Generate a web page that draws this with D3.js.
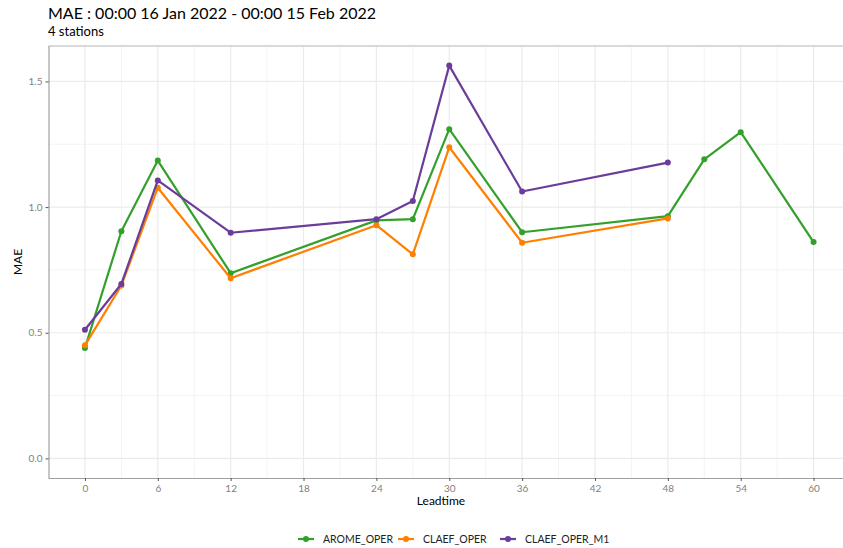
<!DOCTYPE html>
<meta charset="utf-8">
<script src="https://d3js.org/d3.v7.min.js"></script>
<style>
  body { margin: 0; background: #fff; }
  text { font-family: Lato, "Open Sans", sans-serif; }
</style>
<div class="chart"></div>
<script>
  // leadtimes and MAE values per model
  const leadAROME = [0, 3, 6, 12, 24, 27, 30, 36, 48, 51, 54, 60];
  const maeAROME  = [0.439, 0.904, 1.185, 0.737, 0.947, 0.952, 1.31, 0.90, 0.964, 1.19, 1.298, 0.861];
  const leadCLAEF = [0, 3, 6, 12, 24, 27, 30, 36, 48];
  const maeCLAEF  = [0.45, 0.688, 1.077, 0.717, 0.928, 0.812, 1.238, 0.858, 0.955];
  const leadM1    = [0, 3, 6, 12, 24, 27, 30, 36, 48];
  const maeM1     = [0.512, 0.694, 1.106, 0.898, 0.952, 1.024, 1.563, 1.062, 1.177];

  const modelNames = ["AROME_OPER", "CLAEF_OPER", "CLAEF_OPER_M1"];
  const modelColors = ["#33a02c", "#ff7f00", "#6a3d9a"];
  const xTicks = [0, 6, 12, 18, 24, 30, 36, 42, 48, 54, 60];
  const yTicks = [0, 0.5, 1.0, 1.5];

  const width = 843, height = 548;
  const pLeft = 48.5, pTop = 46, pBottom = 478, pRight = 850;

  const svg = d3.select(".chart").append("svg")
    .attr("width", width).attr("height", height);

  const x = d3.scaleLinear().domain([-3, 63]).range([pLeft, pRight]);
  const y = d3.scaleLinear().domain([-0.078, 1.641]).range([pBottom, pTop]);

  // panel grid
  const grid = svg.append("g");
  d3.range(3, 64, 6).forEach(v => {
    grid.append("line").attr("x1", x(v)).attr("x2", x(v)).attr("y1", pTop).attr("y2", pBottom)
      .attr("stroke", "#f3f3f3").attr("stroke-width", 1);
  });
  [0.25, 0.75, 1.25].forEach(v => {
    grid.append("line").attr("x1", pLeft).attr("x2", pRight).attr("y1", y(v)).attr("y2", y(v))
      .attr("stroke", "#f3f3f3").attr("stroke-width", 1);
  });
  xTicks.forEach(v => {
    grid.append("line").attr("x1", x(v)).attr("x2", x(v)).attr("y1", pTop).attr("y2", pBottom)
      .attr("stroke", "#ebebeb").attr("stroke-width", 1.2);
  });
  yTicks.forEach(v => {
    grid.append("line").attr("x1", pLeft).attr("x2", pRight).attr("y1", y(v)).attr("y2", y(v))
      .attr("stroke", "#ebebeb").attr("stroke-width", 1.2);
  });
  // panel top border
  svg.append("line").attr("x1", pLeft).attr("x2", pRight).attr("y1", pTop).attr("y2", pTop)
    .attr("stroke", "#cccccc").attr("stroke-width", 1.5);

  // axes
  const xAxis = svg.append("g").attr("transform", `translate(0,${pBottom})`)
    .call(d3.axisBottom(x).tickValues(xTicks).tickSize(3).tickPadding(4).tickFormat(d3.format("d")));
  const yAxis = svg.append("g").attr("transform", `translate(${pLeft},0)`)
    .call(d3.axisLeft(y).tickValues(yTicks).tickSize(3).tickPadding(3).tickFormat(d3.format(".1f")));
  [xAxis, yAxis].forEach(a => {
    a.select(".domain").attr("stroke", "#a0a0a0").attr("stroke-width", 1.2);
    a.selectAll(".tick line").attr("stroke", "#555");
    a.selectAll(".tick text").attr("fill", "#7f7f7f").style("font-size", "10px")
      .style("font-family", "Lato, sans-serif");
  });
  xAxis.select(".domain").attr("d", `M${pLeft},0.5H${pRight}`);
  yAxis.select(".domain").attr("d", `M0.5,${pTop}V${pBottom}`);

  // series
  const series = [
    { lead: leadAROME, mae: maeAROME },
    { lead: leadCLAEF, mae: maeCLAEF },
    { lead: leadM1, mae: maeM1 }
  ];
  const line = d3.line().x(d => x(d[0])).y(d => y(d[1]));
  series.forEach((s, i) => {
    const pts = s.lead.map((l, j) => [l, s.mae[j]]);
    svg.append("path").datum(pts).attr("d", line)
      .attr("fill", "none").attr("stroke", modelColors[i]).attr("stroke-width", 2.2)
      .attr("stroke-linejoin", "round");
    svg.append("g").selectAll("circle").data(pts).enter().append("circle")
      .attr("cx", d => x(d[0])).attr("cy", d => y(d[1])).attr("r", 3)
      .attr("fill", modelColors[i]);
  });

  // titles
  svg.append("text").attr("x", 48).attr("y", 19).text("MAE : 00:00 16 Jan 2022 - 00:00 15 Feb 2022")
    .style("font-size", "16px").attr("fill", "#000");
  svg.append("text").attr("x", 48).attr("y", 36).text("4 stations")
    .style("font-size", "13px").attr("fill", "#000");
  svg.append("text").attr("x", 441).attr("y", 505).attr("text-anchor", "middle").text("Leadtime")
    .style("font-size", "12px").attr("fill", "#000");
  svg.append("text").attr("transform", `translate(22,${(pTop + pBottom) / 2}) rotate(-90)`)
    .attr("text-anchor", "middle").text("MAE").style("font-size", "12px").attr("fill", "#000");

  // legend
  const legendX = [298, 398, 500];
  const legend = svg.append("g");
  modelNames.forEach((n, i) => {
    const g = legend.append("g").attr("transform", `translate(${legendX[i]},539)`);
    g.append("line").attr("x1", 0).attr("x2", 16).attr("stroke", modelColors[i]).attr("stroke-width", 2.2);
    g.append("circle").attr("cx", 8).attr("r", 3).attr("fill", modelColors[i]);
    g.append("text").attr("x", 25).attr("y", 3.5).text(n).style("font-size", "10.5px").attr("fill", "#222");
  });
</script>
